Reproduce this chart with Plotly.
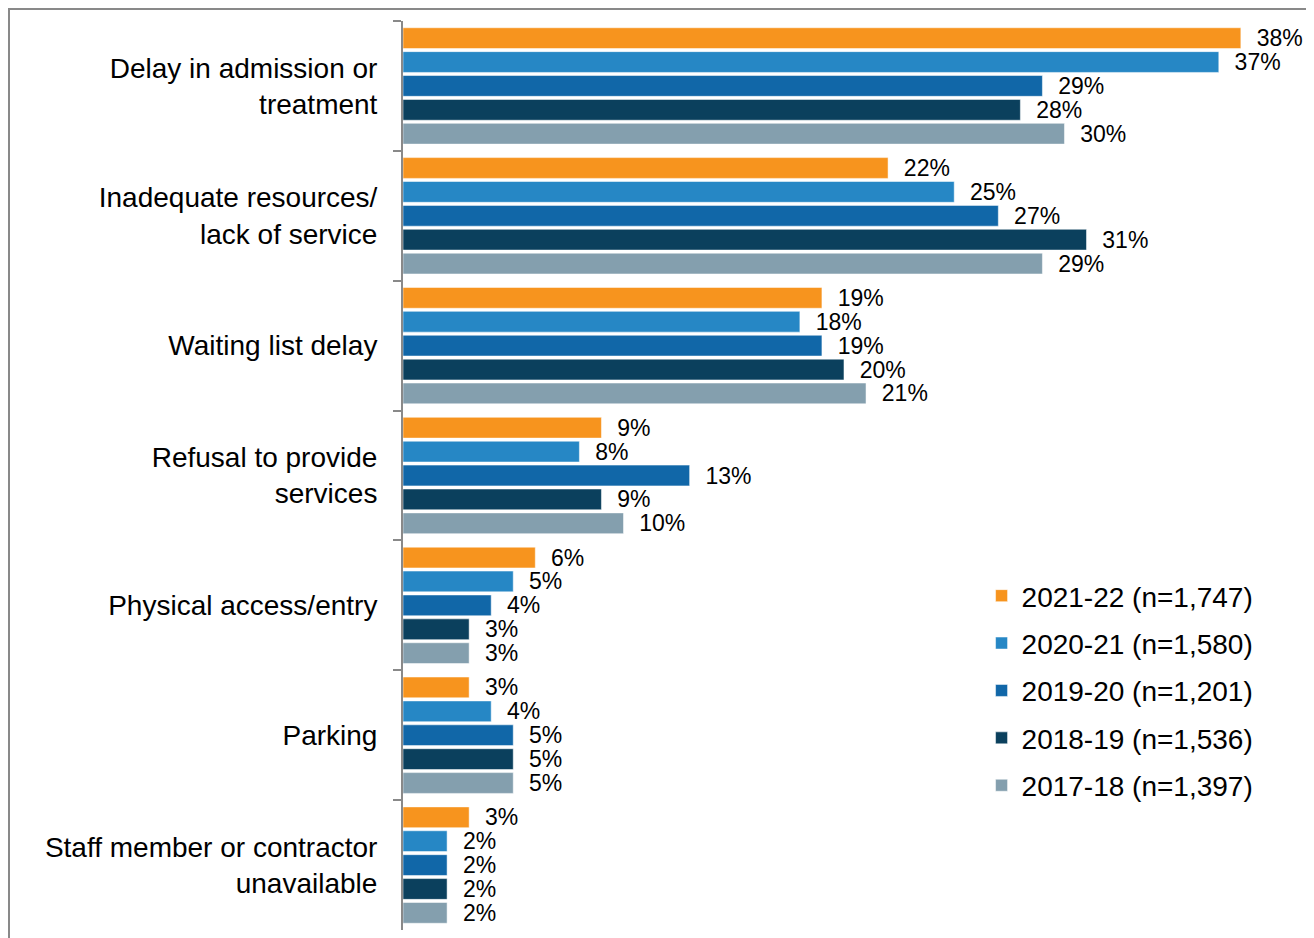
import plotly.graph_objects as go

# Complaint issues, share of complaints per year
categories = [
    'Delay in admission or<br>treatment',
    'Inadequate resources/<br>lack of service',
    'Waiting list delay',
    'Refusal to provide<br>services',
    'Physical access/entry',
    'Parking',
    'Staff member or contractor<br>unavailable',
]

years = ['2021-22 (n=1,747)', '2020-21 (n=1,580)', '2019-20 (n=1,201)',
         '2018-19 (n=1,536)', '2017-18 (n=1,397)']

v_2021_22 = [38, 22, 19, 9, 6, 3, 3]
v_2020_21 = [37, 25, 18, 8, 5, 4, 2]
v_2019_20 = [29, 27, 19, 13, 4, 5, 2]
v_2018_19 = [28, 31, 20, 9, 3, 5, 2]
v_2017_18 = [30, 29, 21, 10, 3, 5, 2]

series = [v_2021_22, v_2020_21, v_2019_20, v_2018_19, v_2017_18]
colors = ['#F7941E', '#2687C5', '#1167A8', '#0B405D', '#849FAE']

font = 'Arial, Liberation Sans, sans-serif'

fig = go.Figure()
for name, vals, col in zip(years, series, colors):
    fig.add_trace(go.Bar(
        y=categories, x=vals, name=name, orientation='h',
        marker=dict(color=col, line=dict(color='white', width=0.5)),
        text=[f'\u00a0\u00a0{v}%' for v in vals],
        textposition='outside', constraintext='none', cliponaxis=False,
        textfont=dict(family=font, size=23, color='black'),
        legendgroup=name,
    ))

fig.update_layout(
    width=1306, height=930,
    margin=dict(l=395, r=7, t=13, b=8),
    paper_bgcolor='white', plot_bgcolor='white',
    barmode='group', bargap=0.08, bargroupgap=0.13,
    font=dict(family=font, color='black'),
    legend=dict(x=0.64, y=0.395, xanchor='left', yanchor='top',
                font=dict(family=font, size=28, color='black'),
                tracegroupgap=8, itemwidth=30),
    showlegend=True,
)

fig.update_xaxes(range=[0, 41.0], visible=False)
fig.update_yaxes(
    autorange='reversed', showline=True, linecolor='#898989', linewidth=2,
    ticks='outside', tickson='boundaries', ticklen=8, tickcolor='#898989',
    tickwidth=2, ticklabelstandoff=18, showgrid=False,
    tickfont=dict(family=font, size=28, color='black'),
)

# outer frame around the chart
fig.add_shape(type='rect', xref='paper', yref='paper',
              x0=(1 - 395) / 904, x1=1.0,
              y0=-0.05, y1=(922 - 1) / 909,
              line=dict(color='#898989', width=2), fillcolor='rgba(0,0,0,0)')

fig.write_html('out.html')
